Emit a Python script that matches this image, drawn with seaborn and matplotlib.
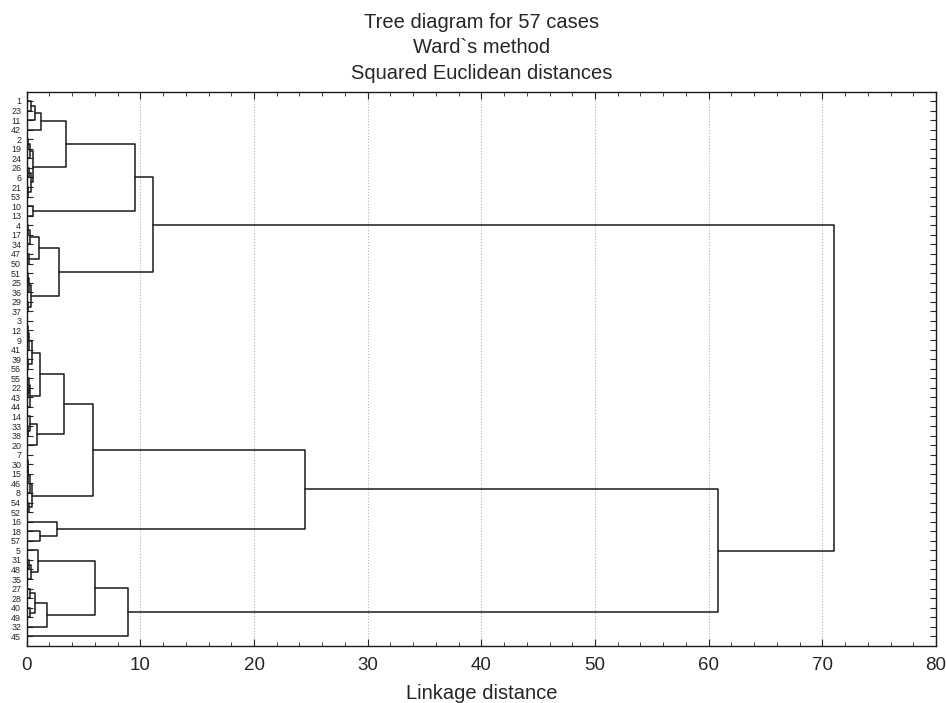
import matplotlib
matplotlib.use("Agg")
import matplotlib.pyplot as plt
import seaborn as sns
import pandas as pd
from matplotlib.ticker import MultipleLocator

# case labels, top to bottom as shown on the tree
leaf_labels = ["1", "23", "11", "42", "2", "19", "24", "26", "6", "21", "53", "10", "13",
               "4", "17", "34", "47", "50", "51", "25", "36", "29", "37",
               "3", "12", "9", "41", "39", "56", "55", "22", "43", "44", "14", "33", "38", "20",
               "7", "30", "15", "46", "8", "54", "52", "16", "18", "57",
               "5", "31", "48", "35", "27", "28", "40", "49", "32", "45"]

# merge steps: new node, left child, right child, linkage distance
merges_a = [
    ("a1", "1", "23", 0.4), ("a2", "a1", "11", 0.75), ("a3", "a2", "42", 1.3),
    ("a4", "2", "19", 0.1), ("a5", "a4", "24", 0.25), ("a6", "26", "6", 0.2),
    ("a7", "21", "53", 0.15), ("a8", "a6", "a7", 0.35), ("a9", "a5", "a8", 0.55),
    ("a10", "a3", "a9", 3.45), ("a11", "10", "13", 0.58), ("a12", "a10", "a11", 9.55),
    ("a13", "4", "17", 0.1), ("a14", "a13", "34", 0.3), ("a15", "47", "50", 0.2),
    ("a16", "a14", "a15", 1.1), ("a17", "51", "25", 0.1), ("a18", "a17", "36", 0.2),
    ("a19", "29", "37", 0.15), ("a20", "a18", "a19", 0.35), ("a21", "a16", "a20", 2.85),
    ("A", "a12", "a21", 11.15),
]
merges_b = [
    ("b1", "3", "12", 0.05), ("b2", "b1", "9", 0.1), ("b3", "b2", "41", 0.2),
    ("b4", "39", "56", 0.15), ("b5", "b3", "b4", 0.45), ("b6", "22", "43", 0.1),
    ("b7", "55", "b6", 0.2), ("b8", "b7", "44", 0.3), ("b9", "b5", "b8", 1.2),
    ("b10", "33", "38", 0.15), ("b11", "14", "b10", 0.3), ("b12", "b11", "20", 0.95),
    ("b13", "b9", "b12", 3.25), ("b14", "7", "30", 0.05), ("b15", "b14", "15", 0.1),
    ("b16", "b15", "46", 0.15), ("b17", "b16", "8", 0.25), ("b18", "54", "52", 0.2),
    ("b19", "b17", "b18", 0.45), ("b20", "b13", "b19", 5.8), ("b21", "18", "57", 1.15),
    ("b22", "16", "b21", 2.65), ("b23", "b20", "b22", 24.5),
    ("b24", "31", "48", 0.2), ("b25", "b24", "35", 0.35), ("b26", "5", "b25", 0.96),
    ("b27", "27", "28", 0.3), ("b28", "40", "49", 0.25), ("b29", "b27", "b28", 0.73),
    ("b30", "b29", "32", 1.75), ("b31", "b26", "b30", 6.0), ("b32", "b31", "45", 8.95),
    ("B", "b23", "b32", 60.8),
]
merges_top = [("root", "A", "B", 71.05)]

merges = merges_a + merges_b + merges_top

# node positions: leaves sit at their row, merged nodes halfway between children
pos_y = {lab: i for i, lab in enumerate(leaf_labels)}
pos_x = {lab: 0.0 for lab in leaf_labels}
rows = []
for k, (node, left, right, h) in enumerate(merges):
    yl, yr = pos_y[left], pos_y[right]
    xs = [pos_x[left], h, h, pos_x[right]]
    ys = [yl, yl, yr, yr]
    for j in range(4):
        rows.append({"seg": k, "order": j, "x": xs[j], "y": ys[j]})
    pos_y[node] = (yl + yr) / 2
    pos_x[node] = h
seg_df = pd.DataFrame(rows)

sns.set_style("ticks")
plt.rcParams["font.family"] = ["Liberation Sans", "DejaVu Sans"]

fig = plt.figure(figsize=(9.46, 7.03), dpi=100)
ax = fig.add_axes([0.0282, 0.0815, 0.9612, 0.7881])

sns.lineplot(data=seg_df, x="x", y="y", units="seg", estimator=None, sort=False,
             color="#1a1a1a", linewidth=1.1, ax=ax, legend=False)

ax.set_xlim(0, 80)
ax.set_ylim(len(leaf_labels) - 1 + 0.97, -0.97)
ax.xaxis.set_major_locator(MultipleLocator(10))
ax.xaxis.set_minor_locator(MultipleLocator(2))
ax.grid(axis="x", which="major", linestyle=":", color="#b0b0b0", linewidth=0.8)

ax.set_yticks(range(len(leaf_labels)))
ax.set_yticklabels(leaf_labels, fontsize=6.4)
ax.tick_params(axis="y", direction="in", left=True, right=True, length=4, width=0.8, pad=4)
ax.tick_params(axis="x", which="major", direction="in", top=True, bottom=True,
               length=5, width=0.8, labelsize=13.5, pad=8)
ax.tick_params(axis="x", which="minor", direction="in", top=True, bottom=True,
               length=3, width=0.6)
for sp in ax.spines.values():
    sp.set_linewidth(1.0)
    sp.set_color("#1a1a1a")

ax.set_ylabel("")
ax.set_xlabel("Linkage distance", fontsize=14.5, labelpad=7)
ax.set_title("Tree diagram for 57 cases\nWard`s method\nSquared Euclidean distances",
             fontsize=14.5, linespacing=1.45, pad=9)

fig.savefig("out.png", dpi=100)
plt.close(fig)
